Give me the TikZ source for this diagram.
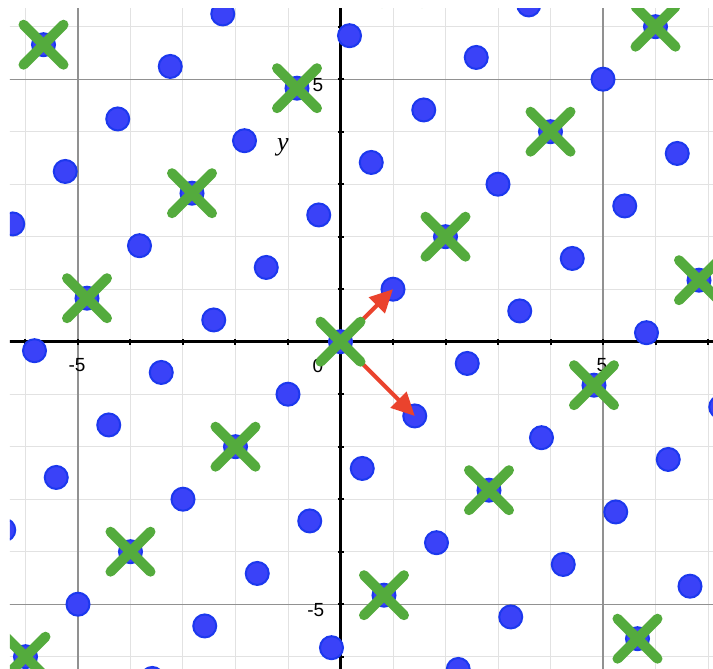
\documentclass[tikz,border=0pt]{standalone}
\usepackage{fontspec}
\setmainfont{Liberation Serif}
\setsansfont{Liberation Sans}
\usetikzlibrary{arrows.meta}
\definecolor{dotblue}{RGB}{58,66,248}
\definecolor{dotedge}{RGB}{28,56,238}
\definecolor{xgreen}{RGB}{84,171,61}
\definecolor{arrred}{RGB}{234,67,45}
\definecolor{minorgrid}{RGB}{226,226,226}
\definecolor{majorgrid}{RGB}{145,145,145}
\begin{document}
\begin{tikzpicture}[x=52.5pt,y=52.5pt,
  minorline/.style={draw=minorgrid,line width=1pt},
  majorline/.style={draw=majorgrid,line width=1.3pt},
  axisline/.style={draw=black,line width=2.6pt},
  tickline/.style={draw=black,line width=2pt},
  latdot/.style={fill=dotblue,draw=dotedge,line width=2pt},
  xmark/.style={draw=xgreen,line width=10pt,line cap=round},
  vecarrow/.style={draw=arrred,line width=4pt,-{Triangle[length=23pt,width=22pt]}},
  ticklabel/.style={font=\sffamily\fontsize{19}{19}\selectfont,inner sep=0pt},
  axislabel/.style={font=\itshape\fontsize{26}{26}\selectfont,inner sep=0pt}]
\useasboundingbox (-6.4857,-6.2152) rectangle (7.0952,6.5086);
\begin{scope}
\clip (-6.2952,-6.2152) rectangle (7.0952,6.356);
% grid
\foreach \i in {-6,...,7} \draw[minorline] (\i,-7) -- (\i,7);
\foreach \j in {-7,...,7} \draw[minorline] (-7,\j) -- (8,\j);
\foreach \i in {-5,5} {\draw[majorline] (\i,-7) -- (\i,7); \draw[majorline] (-7,\i) -- (8,\i);}
% axes
\draw[axisline] (-7,0) -- (8,0);
\draw[axisline] (0,-7) -- (0,7);
\foreach \i in {-6,...,7} \draw[tickline] (\i,0) ++(0,-3pt) -- ++(0,6pt);
\foreach \j in {-7,...,7} \draw[tickline] (0,\j) ++(-3pt,0) -- ++(6pt,0);
% tick labels
\node[ticklabel,anchor=north] (lxp) at ([shift={(-1pt,-17pt)}]5,0) {5};
\node[ticklabel,anchor=north] (lxm) at ([shift={(-1pt,-17pt)}]-5,0) {-5};
\node[ticklabel,anchor=east] (lyp) at ([shift={(-17pt,-6pt)}]0,5) {5};
\node[ticklabel,anchor=east] (lym) at ([shift={(-16pt,-6pt)}]0,-5) {-5};
\node[ticklabel,anchor=north east] (lo) at ([shift={(-17pt,-17pt)}]0,0) {0};
\node[axislabel] (ylab) at (-1.095,3.709) {y};
% lattice dots
\foreach \m in {-8,...,8} \foreach \n in {-6,...,6} {
  \path[latdot] ({\m+1.41421*\n},{\m-1.41421*\n}) circle (11.5pt);
}
% vectors
\coordinate (o) at (0,0);
\coordinate (u) at (1,1);
\coordinate (w) at (1.41421,-1.41421);
\draw[vecarrow] (o) -- (u);
\draw[vecarrow] (o) -- (w);
% sublattice marks
\foreach \m in {-8,-6,...,8} \foreach \n in {-6,-4,...,6} {
  \draw[xmark] ({\m+1.41421*\n},{\m-1.41421*\n}) ++(-20pt,-20pt) -- ++(40pt,40pt);
  \draw[xmark] ({\m+1.41421*\n},{\m-1.41421*\n}) ++(-20pt,20pt) -- ++(40pt,-40pt);
}
\end{scope}
\end{tikzpicture}
\end{document}
